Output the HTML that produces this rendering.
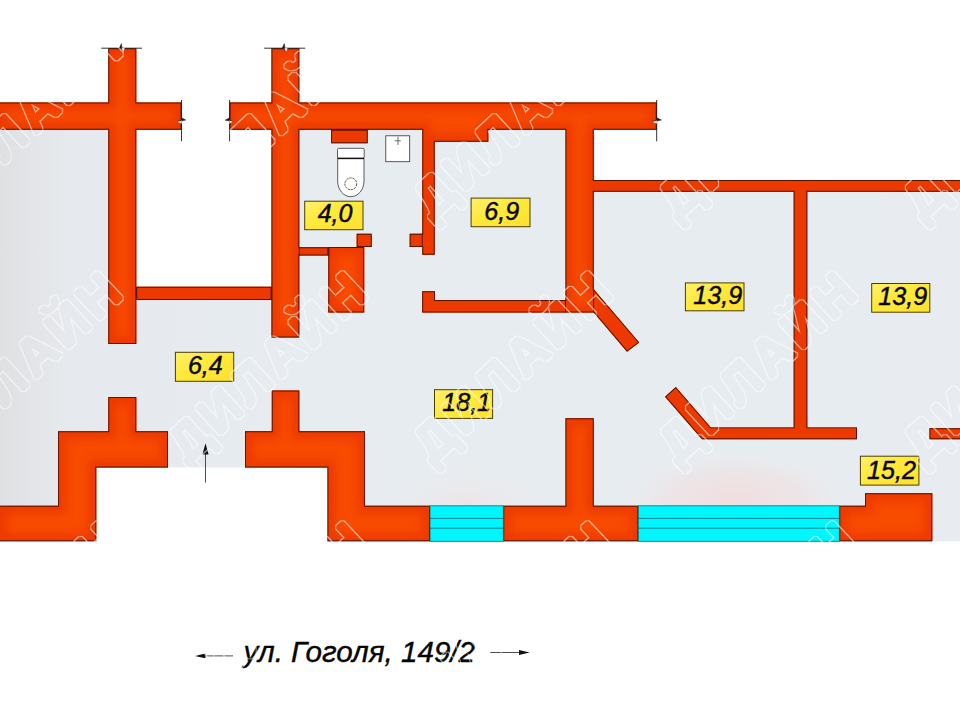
<!DOCTYPE html>
<html lang="ru">
<head>
<meta charset="utf-8">
<title>ул. Гоголя, 149/2</title>
<style>
html,body{margin:0;padding:0;background:#fff;}
body{width:960px;height:720px;overflow:hidden;position:relative;font-family:"Liberation Sans",sans-serif;}
svg{position:absolute;left:0;top:0;display:block;}
.lab{fill:url(#lg);stroke:#4a3e08;stroke-width:1;}
.lt{font-family:"Liberation Sans",sans-serif;font-style:italic;font-size:25.1px;fill:#080808;stroke:#080808;stroke-width:0.45;text-anchor:middle;}
.st{font-family:"Liberation Sans",sans-serif;font-style:italic;font-size:29.6px;fill:#050505;stroke:#050505;stroke-width:0.4;}
.wm{font-family:"Liberation Sans",sans-serif;font-weight:bold;font-size:52px;fill:#fff;stroke:none;text-anchor:middle;letter-spacing:5px;}
.bl{stroke:#1c1c1c;stroke-width:0.9;fill:none;}
.zz{fill:#1c1c1c;stroke:#1c1c1c;stroke-width:0.5;stroke-linejoin:miter;}
</style>
</head>
<body>
<svg width="960" height="720" viewBox="0 0 960 720">
<defs>
<path id="W" d="M-1 102.6H108.3V48.2H136.3V102.6H181.5V129.8H136.3V344H108.3V129.8H-1Z M136.3 286.7H271.5V300H136.3Z M229.6 102.6H271.5V48.2H299.3V102.6H656.7V129.8H593.7V180H961V191.7H807.3V427.4H857V439.3H702L665 396.7L675.8 387L710.8 427.4H793.7V191.7H593.7V289.2L639.2 342.5L627 351.7L593.7 312.5H422.2V291.3H435V300H565.5V129.8H488.3V141.7H434.7V254.7H422.3V246.9H409.7V233.7H422.3V129.8H299.3V247.2H328.5V255.5H299.3V337.5H271.5V129.8H229.6Z M331 129.8H367.7V143.3H331Z M356.7 233.7H371.7V247H356.7Z M328.3 247H364.2V312.5H328.3Z M-1 505.8H58V431.3H108.3V397H136.3V431.3H168V467.5H96.3V541.3H-1Z M245 431.3H271.8V390.5H299.3V431.3H365V505.8H430V541.3H327.5V467.5H245Z M503.3 505.8H565.5V418.3H593.7V505.8H638.3V541.3H503.3Z M839.3 505.8H865V493.3H932.3V541.3H839.3Z M961 428.3H929.5V439.3H961Z"/>
<clipPath id="wc"><use href="#W"/></clipPath>
<filter id="ol" filterUnits="userSpaceOnUse" x="0" y="0" width="960" height="720" color-interpolation-filters="sRGB">
<feMorphology in="SourceAlpha" operator="dilate" radius="2.3" result="big"/>
<feMorphology in="SourceAlpha" operator="dilate" radius="0.9" result="small"/>
<feComposite in="big" in2="small" operator="out" result="ring"/>
<feFlood flood-color="#fff"/>
<feComposite in2="ring" operator="in"/>
<feGaussianBlur stdDeviation="0.4"/>
</filter>
<filter id="b3" x="-5%" y="-5%" width="110%" height="110%"><feGaussianBlur stdDeviation="5"/></filter>
<linearGradient id="fg" gradientUnits="userSpaceOnUse" x1="0" y1="0" x2="960" y2="0">
<stop offset="0" stop-color="#dfe0e2"/><stop offset="0.07" stop-color="#e6e9ed"/><stop offset="0.3" stop-color="#e7ecf1"/><stop offset="1" stop-color="#e8ecf0"/>
</linearGradient>
<radialGradient id="pk" gradientUnits="userSpaceOnUse" cx="735" cy="500" r="120" gradientTransform="translate(0 500) scale(1 0.42) translate(0 -500)">
<stop offset="0" stop-color="#f6d8d8" stop-opacity="0.75"/><stop offset="0.6" stop-color="#f2dcdc" stop-opacity="0.4"/><stop offset="1" stop-color="#eee" stop-opacity="0"/>
</radialGradient>
<radialGradient id="pk2" gradientUnits="userSpaceOnUse" cx="466" cy="502" r="95" gradientTransform="translate(0 502) scale(1 0.4) translate(0 -502)">
<stop offset="0" stop-color="#f2dede" stop-opacity="0.5"/><stop offset="1" stop-color="#eee" stop-opacity="0"/>
</radialGradient>
<linearGradient id="lg" x1="0" y1="0" x2="1" y2="1">
<stop offset="0" stop-color="#fff06a"/><stop offset="0.45" stop-color="#ffe93a"/><stop offset="1" stop-color="#ffe030"/>
</linearGradient>
</defs>
<!-- floor -->
<g fill="url(#fg)">
<rect x="0" y="129" width="109" height="339"/>
<rect x="0" y="467" width="60" height="40"/>
<rect x="108" y="299" width="258" height="168.5"/>
<rect x="299" y="129" width="296" height="339"/>
<rect x="364" y="467" width="231" height="40"/>
<rect x="593" y="190" width="367" height="317"/>
<rect x="931" y="500" width="29" height="41.3"/>
</g>
<!-- warm tint near windows -->
<rect x="594" y="440" width="246" height="66" fill="url(#pk)"/>
<rect x="366" y="455" width="200" height="51" fill="url(#pk2)"/>
<!-- walls -->
<use href="#W" fill="#f84c00"/>
<g clip-path="url(#wc)"><use href="#W" fill="none" stroke="#e62e00" stroke-width="15" filter="url(#b3)" opacity="0.62"/></g>
<use href="#W" fill="none" stroke="#5e1200" stroke-width="1.9" clip-path="url(#wc)"/>
<path d="M565.5 300V312.5M593.7 289.2V312.5M422.3 233.7V246.9M299.3 247.2V255.5" fill="none" stroke="#5e1200" stroke-width="0.9"/>
<!-- windows -->
<g fill="#00f6ff" stroke="#0a6a70" stroke-width="0.8">
<rect x="430" y="505.8" width="73.3" height="35.5"/>
<rect x="638.3" y="505.8" width="201" height="35.5"/>
<path d="M430 518.4H503.3M430 528.2H503.3M638.3 518.4H839.3M638.3 528.2H839.3" fill="none"/>
</g>
<!-- break lines -->
<g class="bl">
<path d="M101.3 48.2H142"/>
<path d="M264.2 48.2H305.2"/>
<path d="M181.5 100V141.3"/>
<path d="M229.6 100V141.3"/>
<path d="M656.7 100V141.3"/>
</g>
<g>
<path d="M119.3 48.2L121.4 43.6L122.1 48.2Z M282.2 48.2L284.3 43.6L285 48.2Z M181.5 117.8L185.7 120L181.5 121Z M229.6 117.8L225.2 120.2L229.6 121Z M656.7 117.8L661.5 120L656.7 121Z" fill="#1c1c1c" stroke="#1c1c1c" stroke-width="0.5"/>
<path d="M121.3 48.2L122.7 52.4L124.6 48.2Z M284.2 48.2L285.5 52.4L287.4 48.2Z M181.5 120.3L176.8 121.3L181.5 123.4Z M229.6 120.3L232.8 121.3L229.6 123.4Z M656.7 120.3L651.8 121.5L656.7 123.4Z" fill="#fff" stroke="#fff" stroke-width="0.3"/>
<path d="M121.3 48.2L122.7 52.4 M284.2 48.2L285.5 52.4 M181.5 120.3L176.8 121.3 M229.6 120.3L232.8 121.3 M656.7 120.3L651.8 121.5" fill="none" stroke="#3a1200" stroke-width="0.9"/>
</g>
<!-- fixtures -->
<g fill="#fff" stroke="#333" stroke-width="0.8">
<rect x="337.5" y="148.3" width="26.7" height="10" rx="1.2"/>
<path d="M337.7 158.3H364V181C364 190 358 196.7 350.8 196.7C343.6 196.7 337.7 190 337.7 181Z"/>
<path d="M337.7 158.5H364" stroke="#111" stroke-width="1.3"/>
<circle cx="350.8" cy="183.8" r="5.9" stroke-dasharray="2.4 0.8"/>
<rect x="385.8" y="135.8" width="23.9" height="25.9"/>
<path d="M398 136.7V145M394.7 140.8H400.8" fill="none" stroke-width="0.7"/>
</g>
<!-- labels -->
<rect class="lab" x="304.7" y="201.2" width="58.3" height="28.5"/>
<rect class="lab" x="471.1" y="198.1" width="58.9" height="28.6"/>
<rect class="lab" x="685.4" y="282.9" width="58.6" height="27.9"/>
<rect class="lab" x="871.7" y="283.5" width="58.1" height="28.7"/>
<rect class="lab" x="175.4" y="352.3" width="58.3" height="29.0"/>
<rect class="lab" x="434.5" y="389.7" width="58.1" height="28.7"/>
<rect class="lab" x="860.4" y="456.2" width="58.5" height="28.9"/>
<text class="lt" x="335.10" y="222.40">4,0</text>
<text class="lt" x="501.80" y="220.00">6,9</text>
<text class="lt" x="717.70" y="304.00">13,9</text>
<text class="lt" x="902.75" y="305.40">13,9</text>
<text class="lt" x="205.35" y="374.40">6,4</text>
<text class="lt" x="466.65" y="411.00">18,1</text>
<text class="lt" x="891.50" y="478.50">15,2</text>
<!-- entrance arrow -->
<path d="M205.5 482.5V452" stroke="#222" stroke-width="0.8" fill="none"/>
<path d="M205.5 443.3L208.6 454.5H202.4Z" fill="#111"/>
<!-- street label -->
<text class="st" x="243.5" y="662.3">ул. Гоголя, 149/2</text>
<path d="M233 655.9H202" stroke="#222" stroke-width="0.8" fill="none"/>
<path d="M194.6 655.9L205.3 653.5V658.3Z" fill="#111"/>
<path d="M490.3 652.5H520" stroke="#222" stroke-width="0.8" fill="none"/>
<path d="M529.7 652.5L519 650.1V654.9Z" fill="#111"/>
<!-- watermark -->
<g class="wm" filter="url(#ol)" opacity="0.56">
<text transform="translate(22.5 121) rotate(-43)" x="0" y="19">ДИЛАЙН</text>
<text transform="translate(267.5 121) rotate(-43)" x="0" y="19">ДИЛАЙН</text>
<text transform="translate(512.5 121) rotate(-43)" x="0" y="19">ДИЛАЙН</text>
<text transform="translate(757.5 121) rotate(-43)" x="0" y="19">ДИЛАЙН</text>
<text transform="translate(1002.5 121) rotate(-43)" x="0" y="19">ДИЛАЙН</text>
<text transform="translate(22.5 365) rotate(-43)" x="0" y="19">ДИЛАЙН</text>
<text transform="translate(267.5 365) rotate(-43)" x="0" y="19">ДИЛАЙН</text>
<text transform="translate(512.5 365) rotate(-43)" x="0" y="19">ДИЛАЙН</text>
<text transform="translate(757.5 365) rotate(-43)" x="0" y="19">ДИЛАЙН</text>
<text transform="translate(1002.5 365) rotate(-43)" x="0" y="19">ДИЛАЙН</text>
<text transform="translate(22.5 615) rotate(-43)" x="0" y="19">ДИЛАЙН</text>
<text transform="translate(267.5 615) rotate(-43)" x="0" y="19">ДИЛАЙН</text>
<text transform="translate(512.5 615) rotate(-43)" x="0" y="19">ДИЛАЙН</text>
<text transform="translate(757.5 615) rotate(-43)" x="0" y="19">ДИЛАЙН</text>
<text transform="translate(1002.5 615) rotate(-43)" x="0" y="19">ДИЛАЙН</text>
</g>
</svg>
</body>
</html>
